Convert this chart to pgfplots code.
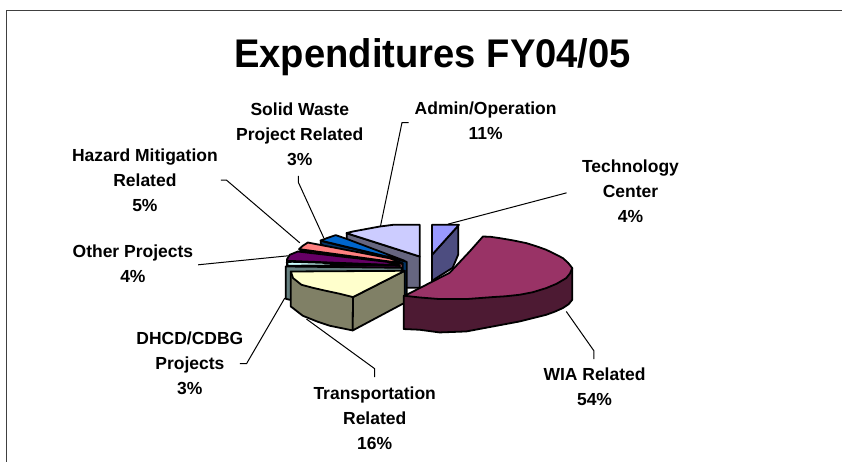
\documentclass[border=0pt]{standalone}
\usepackage{pgfplots}
\usepackage{fontspec}
\setmainfont{Liberation Sans}
\pgfplotsset{compat=1.18}
\definecolor{techtop}{HTML}{9999FF}\definecolor{techside}{HTML}{4D4D80}
\definecolor{admintop}{HTML}{CCCCFF}\definecolor{adminside}{HTML}{666680}
\definecolor{solidtop}{HTML}{0066CC}\definecolor{solidside}{HTML}{003366}
\definecolor{haztop}{HTML}{FF8080}\definecolor{hazside}{HTML}{804040}
\definecolor{othertop}{HTML}{660066}\definecolor{otherside}{HTML}{330033}
\definecolor{dhcdtop}{HTML}{CCFFFF}\definecolor{dhcdside}{HTML}{668080}
\definecolor{transtop}{HTML}{FFFFCC}\definecolor{transside}{HTML}{808066}
\definecolor{wiatop}{HTML}{993366}\definecolor{wiaside}{HTML}{4D1A33}
\definecolor{frame}{HTML}{404040}
\tikzset{lab/.style={align=center,font=\fontsize{17.5}{25}\selectfont\bfseries,inner sep=0pt}}
\pgfplotsset{
  slice/.style={draw=black,line width=1.8pt,line join=round},
  lead/.style={draw=black,line width=1pt,no marks},
}
\begin{document}
\begin{tikzpicture}
\begin{axis}[
  scale only axis,width=843pt,height=462pt,
  xmin=0,xmax=843,ymin=0,ymax=462,y dir=reverse,
  hide axis,clip=false,
]
\addplot[fill=white,draw=none] coordinates {(0,0)(843,0)(843,462)(0,462)} --cycle;
% frame
\addplot[draw=frame,line width=1.3pt] coordinates {(6.5,462)(6.5,10.5)(843,10.5)};
% leaders
\addplot[lead] coordinates {(448.3,224.3)(567,193)};
\addplot[lead] coordinates {(409,122.7)(402.3,122.7)(380.7,226.7)};
\addplot[lead] coordinates {(298.7,176)(298.7,182.7)(324,238)};
\addplot[lead] coordinates {(221,180.3)(226.7,180.3)(300,243)};
\addplot[lead] coordinates {(198.3,265)(288.3,256)};
\addplot[lead] coordinates {(240,364)(246.7,364)(285,298.3)};
\addplot[lead] coordinates {(375,377.3)(375,369)(306.7,319.3)};
\addplot[lead] coordinates {(566.7,311.7)(594.3,351)(594.3,359.3)};
% technology center
\addplot[slice,fill=techside] coordinates {(432.3,255)(458.5,226)(458.5,255)(453,268)(432.3,281)} --cycle;
\addplot[slice,fill=techtop] coordinates {(432.3,225)(459.3,225)(432.3,255)} --cycle;
% admin
\addplot[slice,fill=adminside] coordinates {(347,233.5)(420,256.7)(420,288)(405,288)(347,245)} --cycle;
\addplot[slice,fill=admintop] coordinates {(346.7,233.3)(353,231.7)(380,226.7)(393.3,225)(420,225)(420,256.7)} --cycle;
% solid waste
\addplot[slice,fill=solidside] coordinates {(321,241)(407,262)(407,295)(395,295)(321,244)} --cycle;
\addplot[slice,fill=solidtop] coordinates {(320.7,240.7)(328,238)(336,235.3)(346.7,239)(405,261)} --cycle;
% hazard
\addplot[slice,fill=hazside] coordinates {(300,250)(403,264)(403,295)(395,295)} --cycle;
\addplot[slice,fill=haztop] coordinates {(299.3,249.3)(303,246)(308,242.7)(390,258.5)(403,263.5)} --cycle;
% other projects
\addplot[slice,fill=otherside] coordinates {(287.3,261)(400,266)(400,295)(287.3,295)} --cycle;
\addplot[slice,fill=othertop] coordinates {(287.3,259.3)(290,255)(298,251.7)(387,262)(400,265.5)(287.3,261)} --cycle;
% DHCD
\addplot[slice,fill=dhcdside] coordinates {(286,266.7)(402,268)(402,300)(290,300)(286,299)} --cycle;
\addplot[slice,fill=dhcdtop] coordinates {(287,262.5)(292,262)(380,265)(288,266)} --cycle;
% transportation
\addplot[slice,fill=transside] coordinates {(291,272)(291,306.7)(294,309)(303,316)(318,322)(330,326)(353,330.7)(353.3,297.3)} --cycle;
\addplot[slice,fill=transside] coordinates {(353.3,297.3)(405,271)(405,303)(353,330.7)} --cycle;
\addplot[slice,fill=transtop] coordinates {(291,271.7)(405,271)(353.3,297.3)(340,294)(326,291)(313,288)(301.7,285)(293.3,278.3)} --cycle;
% WIA
\addplot[slice,fill=wiaside] coordinates {(404,296)(404,329.3)(420,330)(440,332.7)(466.7,331.7)(493.3,326.7)(520,321.7)(546.7,315)(555,312)(563.3,308.3)(569,304.5)(572.7,300)(572.7,268.3)} --cycle;
\addplot[slice,fill=wiatop] coordinates {(405,296)(450,273)(470,251.7)(483.3,236.7)(491,237)(500,238.3)(513,240.5)(526.7,243.3)(537,246.5)(546.7,250)(555,254)(563.3,258.3)(568.5,263)(572.7,268.3)(570.5,273.5)(566.7,278.3)(557,284)(546.7,288.3)(533,292.5)(520,295)(506,296.5)(493.3,297.3)(466.7,299.3)(440,299.3)(420,297.7)} --cycle;
% text
\node[inner sep=0pt,font=\fontsize{40}{42}\selectfont\bfseries] at (axis cs:433,57) {\scalebox{.955}[1]{Expenditures FY04/05}};
\node[lab] at (axis cs:300,134) {Solid Waste\\Project Related\\3\%};
\node[lab] at (axis cs:486,120.5) {Admin/Operation\\11\%};
\node[lab] at (axis cs:631,191.5) {Technology\\Center\\4\%};
\node[lab] at (axis cs:145,180) {Hazard Mitigation\\Related\\5\%};
\node[lab] at (axis cs:133,263.5) {Other Projects\\4\%};
\node[lab] at (axis cs:190,364) {DHCD/CDBG\\Projects\\3\%};
\node[lab] at (axis cs:375,418.5) {Transportation\\Related\\16\%};
\node[lab] at (axis cs:595,387.5) {WIA Related\\54\%};
\end{axis}
\end{tikzpicture}
\end{document}
